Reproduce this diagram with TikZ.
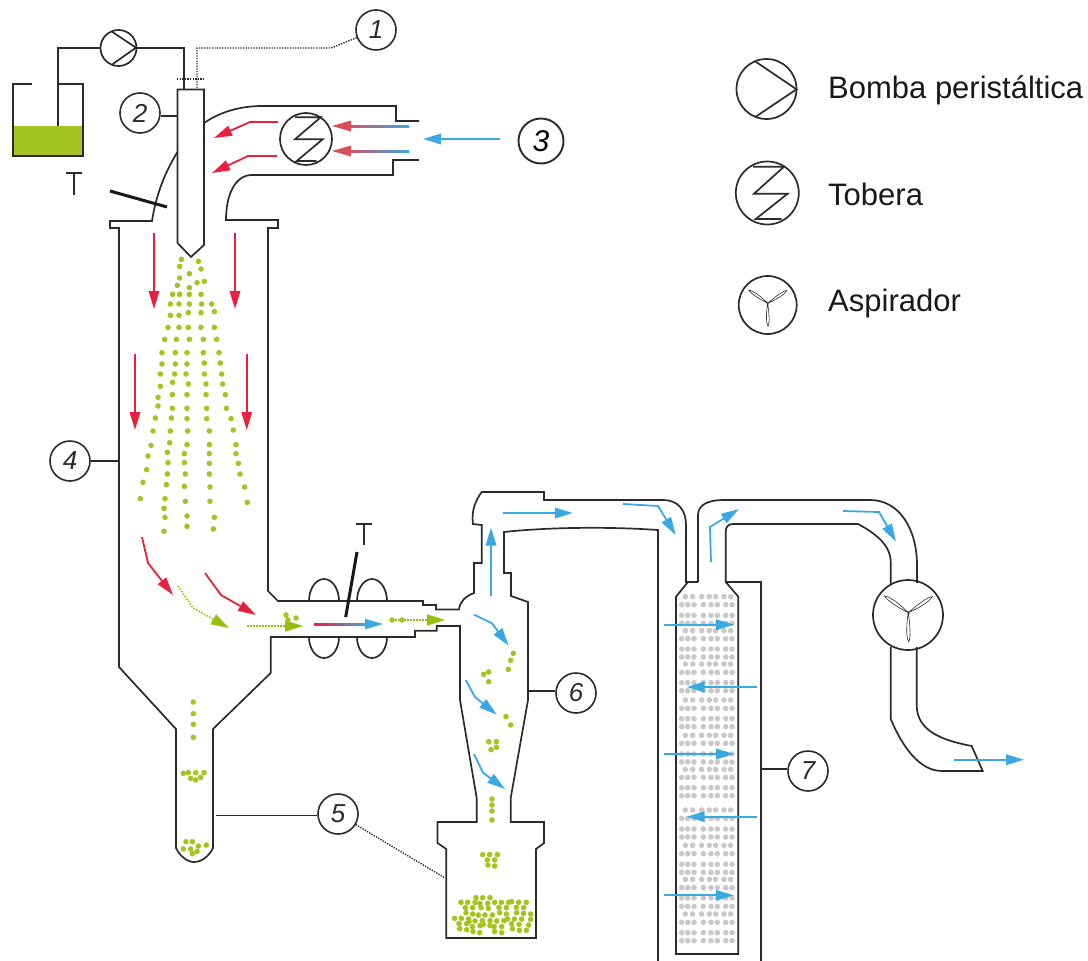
\documentclass[tikz,border=0pt]{standalone}
\usepackage{fontspec}
\setmainfont{Liberation Sans}
\usetikzlibrary{arrows.meta,calc}
\definecolor{rd}{HTML}{E9213F}
\definecolor{bl}{HTML}{3AA9E1}
\definecolor{gn}{HTML}{A5C422}
\definecolor{gt}{HTML}{97BF0D}
\definecolor{ink}{HTML}{2B2B2B}
\definecolor{gy}{HTML}{C9C9C9}
\definecolor{rs}{HTML}{D8505E}
\tikzset{
  wall/.style={draw=ink,line width=1.7pt,line join=miter},
  numc/.style={circle,draw=ink,line width=1.6pt,minimum size=40pt,inner sep=0pt,font=\itshape\fontsize{26}{26}\selectfont,text=ink},
  symb/.style={circle,draw=ink,line width=1.7pt,inner sep=0pt},
  dotted line/.style={draw=ink,line width=1.4pt,dash pattern=on 1.3pt off 1.3pt},
  lead/.style={draw=ink,line width=1.7pt},
  rar/.style={draw=rd,line width=1.8pt,-{Triangle[length=18pt,width=10.5pt]}},
  bar/.style={draw=bl,line width=1.8pt,-{Triangle[length=18pt,width=10.5pt]}},
  gar/.style={draw=gt,line width=1.6pt,dash pattern=on 1.5pt off 1.5pt,-{Triangle[length=18pt,width=11pt,sep=0pt]}},
  lever/.style={draw=black!90,line width=3pt},
  tee/.style={draw=ink,line width=1.2pt},
  legend/.style={anchor=base west,inner sep=0pt,font=\fontsize{31}{31}\selectfont,text=black!90},
}
\newcommand{\fanblade}[4]{\begin{scope}[shift={(#1,#2)},rotate=#3,scale=#4]
  \draw[draw=ink,line width=.6pt] (0,0) .. controls (.35,.07) and (.8,.12) .. (1,.02) .. controls (.85,-.07) and (.35,-.04) .. (0,0) -- cycle;
\end{scope}}
\newcommand{\gdots}[3]{\foreach \a/\b in {#3} \fill[gn] ({#1+\a/3},{#2+\b/3}) circle (2.8);}
\begin{document}
\begin{tikzpicture}[x=1pt,y=-1pt]
\useasboundingbox (0,0) rectangle (1088,961);
% tank
\fill[gn] (13,126) rectangle (83,156);
\draw[wall] (32,84) -- (13,84) -- (13,156) -- (83,156) -- (83,84) -- (58,84);
% symbols
\node[symb,minimum size=36pt] (pump) at (118.5,48) {};
\draw[wall] (111.7,31.5) -- (136,47.7) -- (112.7,64);
\node[symb,minimum size=52pt] (heater) at (306,139) {};
\draw[wall] (295,117.3) -- (320.7,117.3) -- (295,139.3) -- (322.7,139.3) -- (296.7,161) -- (316.7,161);
\coordinate (tankin) at (58,126);
\coordinate (nozin) at (184,89.5);
\draw[lead] (tankin) |- (pump);
\draw[lead] (pump) -| (nozin);
% nozzle
\draw[wall] (177.5,89.5) -- (204,89.5) -- (204,245) -- (191,257) -- (177.5,243) -- cycle;
% chamber & duct
\draw[wall] (204,123) .. controls (220,112) and (240,106) .. (262,106) -- (396,106) -- (396,121) -- (419,121);
\draw[wall] (419,160) -- (393,160) -- (393,175) -- (252,175) .. controls (235,175) and (226,195) .. (226,220) -- (278,220) -- (278,228) -- (268,228) -- (268,591) -- (278,601) -- (423,601) -- (423,605) -- (436,605) -- (436,609.5) -- (459,609.5) .. controls (460,601) and (466,596) .. (474,593) -- (474,563) -- (481.7,563) -- (481.7,525) -- (473,524) .. controls (471,510) and (476,500) .. (481.7,492) -- (544,492) -- (544,500) -- (663,500) .. controls (678,500) and (686,510) .. (686,525) -- (686,582) -- (688,582) -- (676,596.7) -- (676,954) -- (738.3,954) -- (738.3,596.7) -- (725.7,582) -- (725.7,532) .. controls (725.7,527) and (728,524) .. (733,524) -- (858,524) .. controls (875,533) and (890.7,545) .. (890.7,562) -- (890.7,585);
\draw[wall] (698,582) -- (688,582);
\draw[wall] (698,582) -- (698,515) .. controls (698,505) and (708,500) .. (723,500) -- (870,500) .. controls (900,500) and (917,530) .. (917,565) -- (917,583);
\draw[wall] (177.5,152) .. controls (165,172) and (156,195) .. (152,221) -- (110,221) -- (110,228) -- (119,228) -- (119,667) -- (176,729) -- (176,848) .. controls (180,856) and (187,862) .. (194,862) .. controls (202,862) and (209,856) .. (213,848) -- (213,729) -- (270.7,673) -- (270.7,637) -- (415,637) -- (415,630.7) -- (436.7,630.7) -- (436.7,626) -- (460,626) -- (460,700) -- (476.7,798) -- (476.7,822) -- (437.5,822) -- (437.5,843) -- (446.3,849) -- (446.3,938) -- (536,938) -- (536,849) -- (544,843) -- (544,822) -- (510.7,822) -- (510.7,798) -- (528,700) -- (528,602) -- (511,596) -- (511,573) -- (504,573) -- (504,532) .. controls (540,528) and (600,526) .. (658,530) -- (658,961);
\draw[wall] (725.7,582) -- (760.7,582) -- (760.7,961);
% fan
\node[symb,minimum size=70pt] (fan) at (908,615) {};
\draw[wall] (890.7,647) -- (890.7,719) .. controls (903,748) and (920,771) .. (942,771) -- (982.7,771) -- (971.7,746) .. controls (940,740) and (916.7,730) .. (916.7,705) -- (916.7,647);
\fanblade{908.3}{612.7}{146}{29}
\fanblade{908.3}{612.7}{35}{29}
\fanblade{908.3}{612.7}{-88}{29}
% valves
\draw[wall] (309,601) arc[start angle=180,end angle=360,x radius=15,y radius=22];
\draw[wall] (357,601) arc[start angle=180,end angle=360,x radius=15,y radius=22];
\draw[wall] (309,637) arc[start angle=180,end angle=0,x radius=15,y radius=21];
\draw[wall] (357,637) arc[start angle=180,end angle=0,x radius=15,y radius=21];
\draw[lever] (110,191) -- (167,207);
\draw[lever] (357,552) -- (345.7,617);
\draw[tee] (66,173) -- (82,173) (74,173) -- (74,195);
\draw[tee] (356,524) -- (372,524) (364,524) -- (364,545);
% numbered labels
\node[numc] (n1) at (376,30) {1};
\node[numc] (n2) at (140,113) {2};
\node[numc,minimum size=45pt,line width=1.9pt,font=\itshape\fontsize{30}{30}\selectfont,text=black] (n3) at (541,141) {3};
\node[numc] (n4) at (70,461) {4};
\node[numc] (n5) at (338,814) {5};
\node[numc] (n6) at (576,693) {6};
\node[numc] (n7) at (808,771) {7};
\coordinate (t2) at (177.5,116);
\coordinate (t4) at (119,461);
\coordinate (t5) at (216,815.5);
\coordinate (t5b) at (445,878);
\coordinate (t6) at (528,691);
\coordinate (t7) at (760.7,769);
\draw[lead] (t2) -- (t2 -| n2.east);
\draw[lead] (n4) -- (t4);
\draw[lead] (t5) -- (t5 -| n5.west);
\draw[lead] (t6) -- (t6 -| n6.west);
\draw[lead] (t7) -- (t7 -| n7.west);
\draw[dotted line] (n5) -- (t5b);
\coordinate (d1) at (331,48);
\coordinate (d2) at (197,48);
\coordinate (d3) at (197,88);
\draw[dotted line] (n1) -- (d1) -- (d2) -- (d3);
\draw[dotted line] (177,79) -- (204,79);
% red arrows
\draw[rar] (154,233) -- (154,309);
\draw[rar] (235,233) -- (235,309);
\draw[rar] (135,354) -- (135,430);
\draw[rar] (246.7,354) -- (246.7,430);
\draw[rar] (142,537) -- (148,563) -- (173,595);
\draw[rar] (205,573) -- (221,595) -- (256,615);
\draw[rar] (278,122) -- (250,122) -- (214,138);
\draw[rar] (277,156) -- (248,156) -- (212,173);
% gradient arrows
\shade[left color=rs,right color=bl] (345,125) rectangle (409,127);
\shade[left color=rs,right color=bl] (345,150) rectangle (409,152);
\fill[rs] (332,126) -- (351,120.5) -- (351,131.5) -- cycle;
\fill[rs] (332,151) -- (351,145.5) -- (351,156.5) -- cycle;
\shade[left color=rd,right color=bl] (314,623) rectangle (368,625);
\fill[bl] (383,624) -- (365,618.7) -- (365,629.3) -- cycle;
% green arrows
\draw[gar] (178,586) -- (193,608) -- (229,628);
\draw[gar] (247,626) -- (303,626);
\draw[gar] (392,620) -- (445,620);
\fill[gn] (392,620) circle (2.8) (402,620) circle (2.8) (286,615) circle (2.8) (288,620) circle (2.8) (296,618) circle (2.8);
% blue arrows
\draw[bar] (500,139) -- (423,139);
\draw[bar] (503,513) -- (573,513);
\draw[bar] (623,504) -- (658,506) -- (675.7,535);
\draw[bar] (711,562) -- (710,527) -- (739,509);
\draw[bar] (491,596) -- (491,527.7);
\draw[bar] (474,614.7) -- (491.7,623) -- (508.7,645.7);
\draw[bar] (465.7,680) -- (475,697) -- (496.7,714.7);
\draw[bar] (474,754) -- (483,772.7) -- (505,789);
\draw[bar] (843,511) -- (879,512) -- (896,541.7);
\draw[bar] (954,759.7) -- (1024,759.7);
% packed bed dots
\foreach \r in {350,452,552,660,766,868,990,1096,1198,1302}
  \foreach \c in {796,818,845,868,887,912,932}
    \fill[gy] ({420+\c/3},{480+\r/3}) circle (2.8);
\foreach \r in {374,406,430,476,507,531,577,608,632,685,716,740,790,822,846,892,923,947,1015,1047,1071,1121,1153,1177,1223,1254,1279,1327,1358,1382}
  \foreach \c in {785,803,822,850,873,892,917,936}
    \fill[gy] ({420+\c/3},{480+\r/3}) circle (2.8);
\draw[bar] (664,624.7) -- (734,624.7);
\draw[bar] (756.7,687) -- (686.7,687);
\draw[bar] (664,754) -- (734,754);
\draw[bar] (756.7,816.7) -- (686.7,816.7);
\draw[bar] (664,895.3) -- (734,895.3);
% particles
\gdots{120}{240}{184/58,235/64,179/79,243/87,208/101,179/114,172/136,231/128,253/124,208/143,158/163,179/163,208/163,243/163,151/192,177/192,208/192,245/192,275/192,151/226,177/226,205/218,243/218,283/215,144/262,177/262,205/262,243/262,283/262,134/298,169/298,208/298,250/298,290/298,126/338,166/338,201/338,250/338,297/338,126/372,166/372,201/372,253/369,301/369,121/402,164/402,198/402,253/402,305/402,121/439,158/427,205/432,258/432,308/432,114/472,157/464,201/464,258/464,316/464,114/498,157/505,201/505,260/505,319/505,106/534,154/534,201/536,260/536,333/536,99/573,151/573,203/573,268/573,340/570,93/616,149/608,201/614,268/614,348/614,84/648,142/637,193/641,268/641,348/641,80/689,144/668,193/668,268/670,355/670,69/727,142/702,196/702,268/702,360/702,61/776,139/734,193/739,270/741,374/741,135/776,196/784,270/784,382/787,132/805,135/832,201/828,283/832,132/874,201/859,280/867}
\gdots{140}{680}{160/66,160/101,160/133,160/172,130/280,145/278,167/278,192/278,152/295,167/300,182/292,138/485,157/485,130/507,152/507,175/498,199/495,171/514,157/521}
\gdots{420}{480}{280/520,272/541,265/568,206/576,191/583,206/605,258/710,272/735,206/785,229/785,229/802,213/809,216/957,216/975,216/993,216/1020,188/1124,209/1124,232/1124,202/1140,224/1140,204/1155,224/1158,168/1253,188/1253,210/1253,123/1267,143/1267,165/1267,180/1270,203/1270,224/1267,244/1267,266/1267,275/1265,296/1267,319/1267,136/1283,158/1283,183/1283,205/1285,237/1283,259/1283,289/1282,311/1283,138/1298,158/1302,175/1305,195/1305,217/1305,239/1298,259/1302,290/1298,311/1300,332/1302,104/1315,124/1315,146/1317,165/1323,187/1322,210/1322,230/1323,252/1322,263/1317,283/1317,305/1317,332/1318,117/1331,140/1331,180/1337,190/1333,210/1337,245/1340,275/1331,297/1333,326/1335,119/1346,140/1349,157/1340,159/1355,179/1358,224/1355,245/1358,277/1346,298/1351,319/1351,147/1325,222/1340}
% legend
\node[symb,minimum size=60pt] (lp) at (766.5,89) {};
\draw[wall] (755.7,61.7) -- (796.5,89.3) -- (755.7,116.7);
\node[symb,minimum size=63pt] (lh) at (767.3,193) {};
\draw[wall] (753,166.7) -- (784,166.7) -- (754,193.7) -- (787.7,193.7) -- (755.7,219) -- (781.7,219);
\node[symb,minimum size=58pt] (lf) at (767.7,305) {};
\fanblade{767.7}{303.3}{146}{23}
\fanblade{767.7}{303.3}{35}{23}
\fanblade{767.7}{303.3}{-88}{23}
\node[legend] (t1) at (828,98) {Bomba peristáltica};
\node[legend] (t2l) at (828,205) {Tobera};
\node[legend] (t3l) at (828,311) {Aspirador};
\end{tikzpicture}
\end{document}
